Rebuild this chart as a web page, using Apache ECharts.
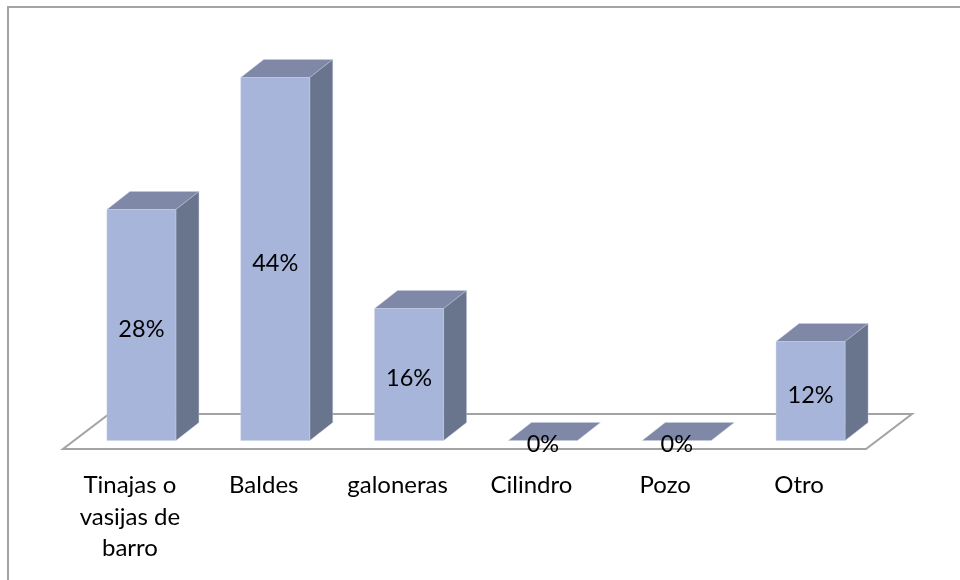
<!DOCTYPE html>
<html>
<head>
<meta charset="utf-8">
<style>
  html, body { margin: 0; padding: 0; background: #fff; }
  #chart { width: 960px; height: 580px; }
</style>
<script src="https://cdn.jsdelivr.net/npm/echarts@6/dist/echarts.min.js"></script>
</head>
<body>
<div id="chart"></div>
<script>
const categories = ['Tinajas o\nvasijas de\nbarro', 'Baldes', 'galoneras', 'Cilindro', 'Pozo', 'Otro'];
const percents = [28, 44, 16, 0, 0, 12];

// fake 3D: depth of the floor, bars stand halfway into it
const DEPTH_X = 46;
const DEPTH_Y = 35;
const BOX_X = 23;
const BOX_Y = 18;
const BAR_W = 69;
const FONT = 'Lato, "Open Sans", sans-serif';

function renderFloor(params) {
  const c = params.coordSys;
  const y0 = c.y + c.height;
  return {
    type: 'polygon',
    silent: true,
    shape: {
      points: [
        [c.x, y0],
        [c.x + c.width, y0],
        [c.x + c.width + DEPTH_X, y0 - DEPTH_Y],
        [c.x + DEPTH_X, y0 - DEPTH_Y]
      ]
    },
    style: { fill: '#fff', stroke: '#a3a3a3', lineWidth: 2 }
  };
}

function renderBox(params, api) {
  const base = api.coord([api.value(0), 0]);
  const top = api.coord([api.value(0), api.value(1)]);
  const shiftX = 11.5;
  const shiftY = 8.5;
  const l = base[0] + shiftX - BAR_W / 2;
  const r = l + BAR_W;
  const b = base[1] - shiftY;
  const t = top[1] - shiftY;
  const edge = { stroke: '#c9d0e2', lineWidth: 0.4 };
  const children = [];
  children.push({
    type: 'polygon',
    shape: { points: [[l, t], [r, t], [r + BOX_X, t - BOX_Y], [l + BOX_X, t - BOX_Y]] },
    style: Object.assign({ fill: '#8088a8' }, edge)
  });
  if (b > t) {
    children.push({
      type: 'polygon',
      shape: { points: [[r, t], [r + BOX_X, t - BOX_Y], [r + BOX_X, b - BOX_Y], [r, b]] },
      style: Object.assign({ fill: '#69748d' }, edge)
    });
    children.push({
      type: 'rect',
      shape: { x: l, y: t, width: BAR_W, height: b - t },
      style: Object.assign({ fill: '#a7b5da' }, edge)
    });
  }
  children.push({
    type: 'text',
    style: {
      x: (l + r) / 2,
      y: (t + b) / 2 + 4,
      text: api.value(1) + '%',
      fill: '#000',
      font: '23.5px ' + FONT,
      align: 'center',
      verticalAlign: 'middle'
    }
  });
  return { type: 'group', children: children };
}

const chart = echarts.init(document.getElementById('chart'), null, { renderer: 'canvas' });
chart.setOption({
  animation: false,
  backgroundColor: '#fff',
  graphic: [{
    // frame only shows on the left and top, the rest is cropped away
    type: 'polyline',
    silent: true,
    z: -10,
    shape: { points: [[8, 580], [8, 7], [960, 7]] },
    style: { fill: 'none', stroke: '#a3a3a3', lineWidth: 2 }
  }],
  grid: { left: 63, width: 803, top: 36.5, height: 412.5 },
  xAxis: {
    type: 'category',
    data: categories,
    axisLine: { show: false },
    axisTick: { show: false },
    splitLine: { show: false },
    axisLabel: {
      interval: 0,
      margin: 21,
      color: '#000',
      fontFamily: 'Lato',
      fontSize: 24,
      lineHeight: 31.5,
      verticalAlign: 'top'
    }
  },
  yAxis: { type: 'value', min: 0, max: 50, show: false },
  series: [
    { type: 'custom', renderItem: renderFloor, data: [0], clip: false, z: 1, silent: true },
    {
      type: 'custom',
      renderItem: renderBox,
      data: percents.map((v, i) => [i, v]),
      encode: { x: 0, y: 1 },
      clip: false,
      z: 2
    }
  ]
});
</script>
</body>
</html>
